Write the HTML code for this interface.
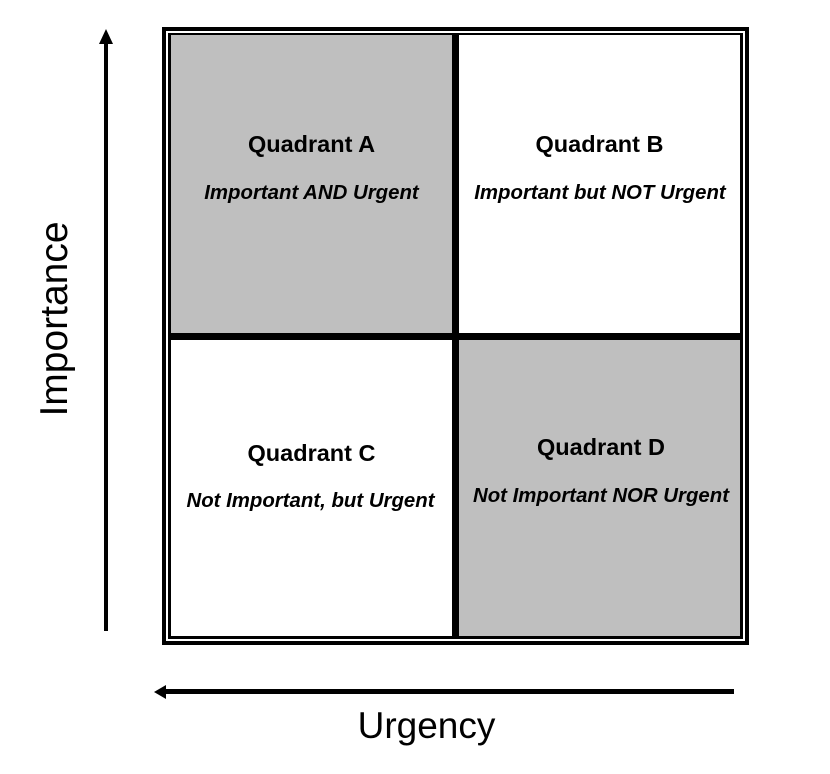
<!DOCTYPE html>
<html>
<head>
<meta charset="utf-8">
<style>
  html, body { margin:0; padding:0; background:#fff; }
  body { width:830px; height:774px; overflow:hidden; }
  svg { display:block; }
  text { font-family: "Liberation Sans", sans-serif; fill:#000; }
  .t { font-weight:bold; font-size:23.5px; }
  .s { font-weight:bold; font-style:italic; font-size:20.4px; }
</style>
</head>
<body>
<svg width="830" height="774" viewBox="0 0 830 774" xmlns="http://www.w3.org/2000/svg">
  <rect x="0" y="0" width="830" height="774" fill="#fff"/>
  <!-- outer frame -->
  <rect x="162" y="27" width="587" height="618" fill="#000"/>
  <rect x="166" y="31" width="579" height="610" fill="#fff"/>
  <!-- inner frame -->
  <rect x="168" y="33" width="575" height="606" fill="#000"/>
  <!-- cells -->
  <rect x="171" y="35" width="281" height="298" fill="#bfbfbf"/>
  <rect x="459" y="35" width="281" height="298" fill="#fff"/>
  <rect x="171" y="340" width="281" height="296" fill="#fff"/>
  <rect x="459" y="340" width="281" height="296" fill="#bfbfbf"/>

  <!-- labels -->
  <text class="t" x="311.5" y="152" text-anchor="middle">Quadrant A</text>
  <text class="s" x="311.5" y="199" text-anchor="middle">Important AND Urgent</text>
  <text class="t" x="599.5" y="152" text-anchor="middle">Quadrant B</text>
  <text class="s" x="600" y="199" text-anchor="middle">Important but NOT Urgent</text>
  <text class="t" x="311.5" y="461" text-anchor="middle">Quadrant C</text>
  <text class="s" x="310.5" y="507" text-anchor="middle">Not Important, but Urgent</text>
  <text class="t" x="601" y="455" text-anchor="middle">Quadrant D</text>
  <text class="s" x="601" y="502" text-anchor="middle">Not Important NOR Urgent</text>

  <!-- vertical arrow -->
  <rect x="104" y="42" width="4" height="589" fill="#000"/>
  <polygon points="99,44 113,44 106,29" fill="#000"/>
  <!-- horizontal arrow -->
  <rect x="164" y="689" width="570" height="5" fill="#000"/>
  <polygon points="166,685 166,699 154,692" fill="#000"/>

  <!-- axis labels -->
  <text x="67" y="319" transform="rotate(-90 67 319)" text-anchor="middle" font-size="39">Importance</text>
  <text x="426.5" y="738" text-anchor="middle" font-size="37">Urgency</text>
</svg>
</body>
</html>
